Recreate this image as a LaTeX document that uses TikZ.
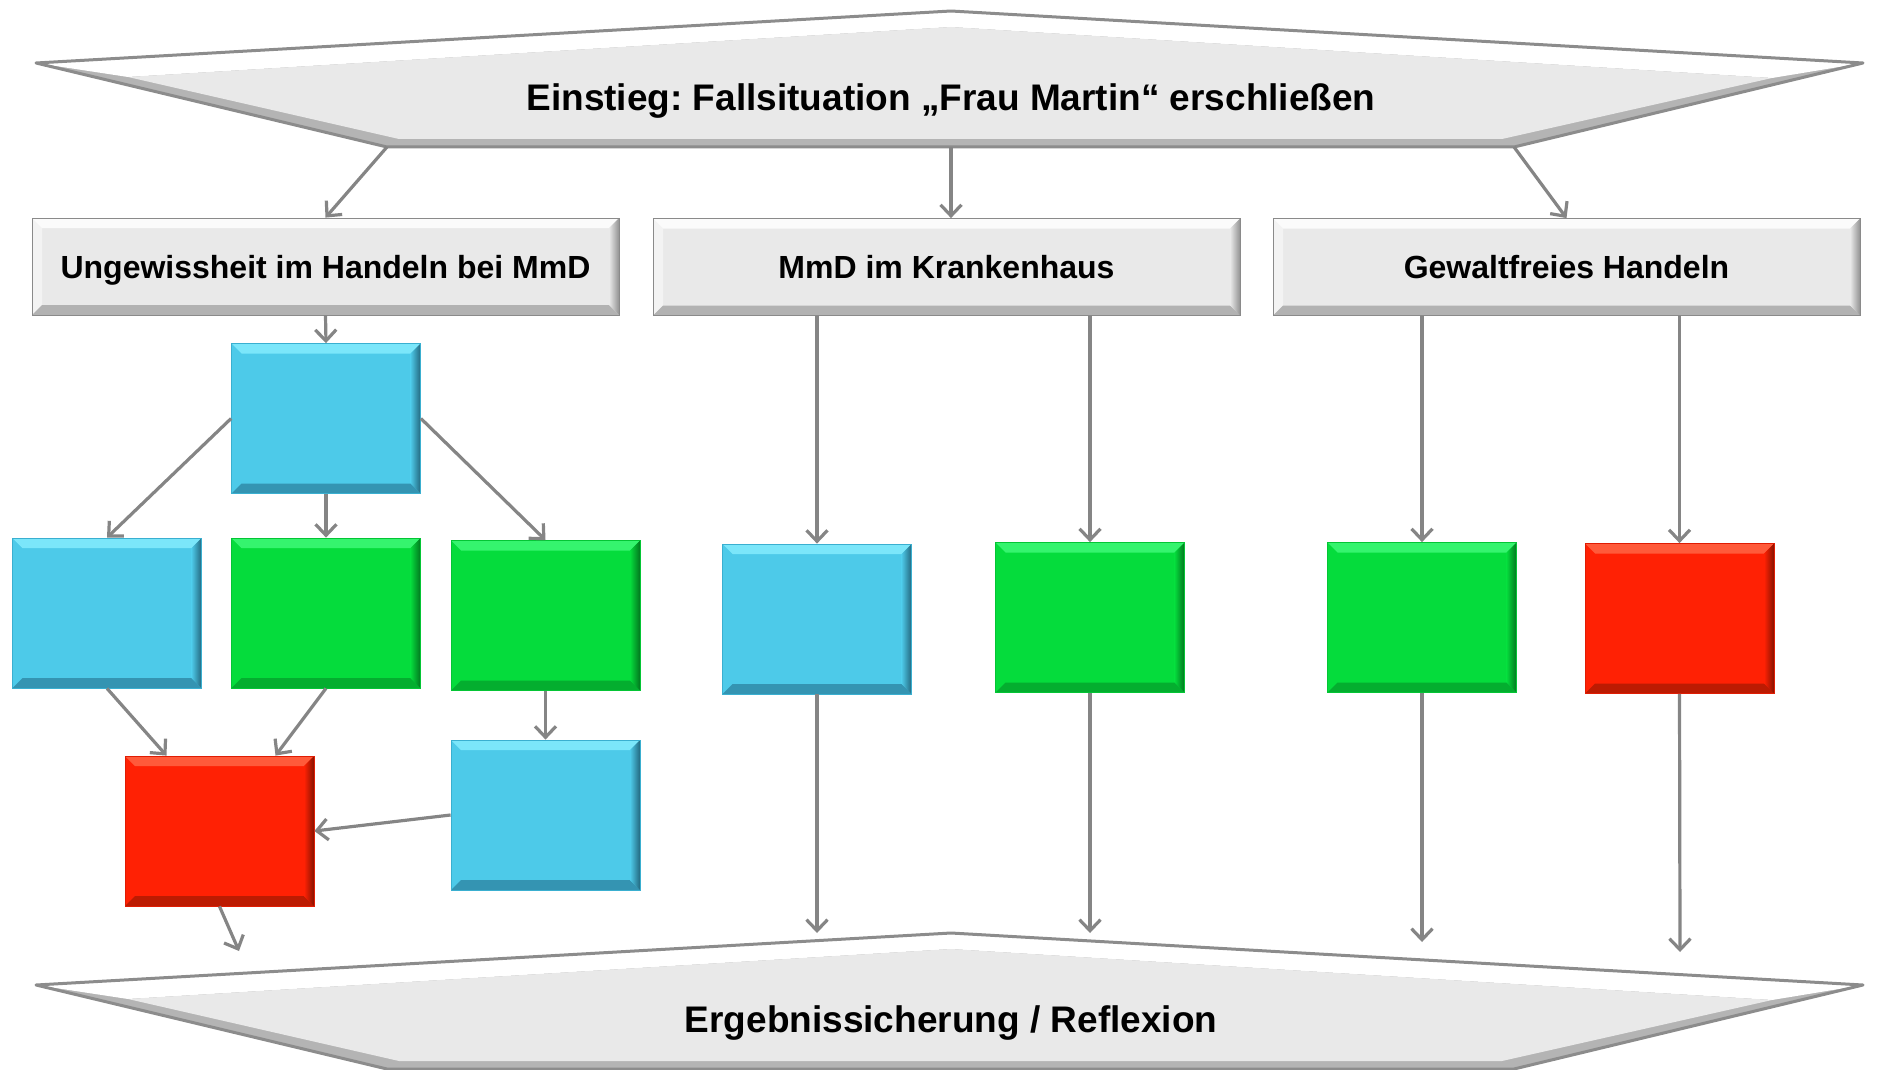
\documentclass[tikz,border=0pt]{standalone}
\usepackage{fontspec}
\setmainfont{Liberation Sans}
\usetikzlibrary{arrows.meta,calc}
\definecolor{arrgray}{HTML}{858585}
\definecolor{hexline}{HTML}{8C8C8C}
\definecolor{hexlow}{HTML}{B4B4B4}
\definecolor{hexface}{HTML}{E9E9E9}
% blue
\definecolor{bFace}{HTML}{4DCAE9}\definecolor{bTop}{HTML}{7BE6FA}\definecolor{bBot}{HTML}{3494B2}\definecolor{bRight}{HTML}{23687F}\definecolor{bBorder}{HTML}{3AAFD0}
% green
\definecolor{gFace}{HTML}{05DC3C}\definecolor{gTop}{HTML}{35F46E}\definecolor{gBot}{HTML}{04AE2F}\definecolor{gRight}{HTML}{02761E}\definecolor{gBorder}{HTML}{04C535}
% red
\definecolor{rFace}{HTML}{FF2104}\definecolor{rTop}{HTML}{FF5A3A}\definecolor{rBot}{HTML}{BC1B02}\definecolor{rRight}{HTML}{861200}\definecolor{rBorder}{HTML}{E01C03}
% gray header
\definecolor{hFace}{HTML}{E9E9E9}\definecolor{hTop}{HTML}{FBFBFB}\definecolor{hLeft}{HTML}{F3F3F3}\definecolor{hBot}{HTML}{B2B2B2}\definecolor{hRight}{HTML}{929292}\definecolor{hBorder}{HTML}{8A8A8A}
\frenchspacing
\begin{document}
\begin{tikzpicture}[x=1pt,y=-1pt,
  arr/.style={draw=arrgray, line width=3.2pt, -{Straight Barb[length=11pt,width=21pt]}},
  bev/.style n args={7}{rectangle, inner sep=0pt, fill=#1, draw=#6, line width=0.8pt,
    path picture={
      \coordinate (pNW) at (path picture bounding box.north west);
      \coordinate (pSE) at (path picture bounding box.south east);
      \coordinate (pNE) at (pNW -| pSE);
      \coordinate (pSW) at (pNW |- pSE);
      \coordinate (qNW) at ([shift={(#7,-#7)}]pNW);
      \coordinate (qNE) at ([shift={(-#7,-#7)}]pNE);
      \coordinate (qSW) at ([shift={(#7,#7)}]pSW);
      \coordinate (qSE) at ([shift={(-#7,#7)}]pSE);
      \fill[#3] (pNW) -- (qNW) -- (qSW) -- (pSW) -- cycle;
      \fill[#2] (pNW) -- (pNE) -- (qNE) -- (qNW) -- cycle;
      \fill[#4] (pSW) -- (pSE) -- (qSE) -- (qSW) -- cycle;
      \shade[left color=#1, right color=#5] (qNE) -- (pNE) -- (pSE) -- (qSE) -- cycle;
    }},
  bluebox/.style={bev={bFace}{bTop}{bFace}{bBot}{bRight}{bBorder}{10pt}, minimum width=189pt, minimum height=150pt},
  greenbox/.style={bev={gFace}{gTop}{gFace}{gBot}{gRight}{gBorder}{10pt}, minimum width=189pt, minimum height=150pt},
  redbox/.style={bev={rFace}{rTop}{rFace}{rBot}{rRight}{rBorder}{10pt}, minimum width=189pt, minimum height=150pt},
  hdr/.style={bev={hFace}{hTop}{hLeft}{hBot}{hRight}{hBorder}{10pt}, minimum width=587pt, minimum height=97pt,
    font=\bfseries\fontsize{32}{35}\selectfont, text=black, text height=23pt, text depth=0pt},
  hextext/.style={font=\bfseries\fontsize{37}{40}\selectfont, text=black, inner sep=0pt, text height=26.5pt, text depth=0pt}
]
\useasboundingbox (0,0) rectangle (1887,1070);

% hexagon shapes
\foreach \dy in {0,922}{
\begin{scope}[shift={(0,\dy)}]
  \fill[hexlow] (36,63) -- (951,11) -- (1863,63) -- (1514,147) -- (387,147) -- cycle;
  \fill[white] (36,63) -- (951,11) -- (1863,63) -- (1772,78) -- (951,27) -- (128,77) -- cycle;
  \fill[hexface] (128,77) -- (951,27) -- (1772,78) -- (1502,139) -- (399,139) -- cycle;
  \draw[hexline, line width=3pt, line join=round] (36,63) -- (951,11) -- (1863,63) -- (1514,147) -- (387,147) -- cycle;
\end{scope}}

\coordinate (tBL) at (387,147);
\coordinate (tBM) at (951,147);
\coordinate (tBR) at (1514,147);
\node[hextext] (top) at (951,97) {Einstieg: Fallsituation „Frau Martin“ erschließen};
\node[hextext] (bot) at (951,1019) {Ergebnissicherung / Reflexion};

% header boxes
\node[hdr] (b1) at (325.5,266.5) {Ungewissheit im Handeln bei MmD};
\node[hdr] (b2) at (946.5,267) {MmD im Krankenhaus};
\node[hdr] (b3) at (1566.5,267) {Gewaltfreies Handeln};

% coloured boxes
\node[bluebox] (A) at (326,418.5) {};
\node[bluebox] (B) at (107,613) {};
\node[greenbox] (C) at (326,613) {};
\node[greenbox] (D) at (545.5,615.5) {};
\node[redbox] (E) at (219.5,831) {};
\node[bluebox] (F) at (545.5,815) {};
\node[bluebox] (G) at (817,619) {};
\node[greenbox] (H) at (1090,617.5) {};
\node[greenbox] (I) at (1422,617.5) {};
\node[redbox] (J) at (1679.5,618.5) {};

% free ends
\coordinate (eE) at (239,951);
\coordinate (eG) at (817,933);
\coordinate (eH) at (1090,933);
\coordinate (eI) at (1422,942);
\coordinate (eJ) at (1680,952);

% connectors
\draw[arr] (tBL) -- (b1.north);
\draw[arr] (tBM) -- (tBM |- b2.north);
\draw[arr] (tBR) -- (b3.north);
\draw[arr] (b1.south) -- (A.north);
\draw[arr] (A.west) -- (B.north);
\draw[arr] (A.south) -- (C.north);
\draw[arr] (A.east) -- (D.north);
\draw[arr] (B.south) -- ([xshift=-53pt]E.north);
\draw[arr] (C.south) -- ([xshift=56pt]E.north);
\draw[arr] (D.south) -- (F.north);
\draw[arr] (F.west) -- (E.east);
\draw[arr] (E.south) -- (eE);
\draw[arr] (b2.south -| G.north) -- (G.north);
\draw[arr] (b2.south -| H.north) -- (H.north);
\draw[arr] (G.south) -- (eG);
\draw[arr] (H.south) -- (eH);
\draw[arr] (b3.south -| I.north) -- (I.north);
\draw[arr] (b3.south -| J.north) -- (J.north);
\draw[arr] (I.south) -- (eI);
\draw[arr] (J.south) -- (eJ);
\end{tikzpicture}
\end{document}
